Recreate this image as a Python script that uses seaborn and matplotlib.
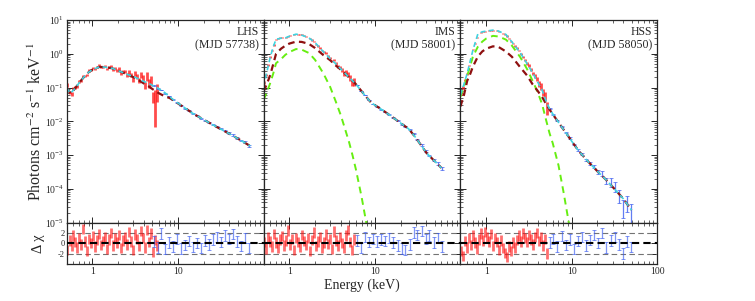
import matplotlib
matplotlib.use("Agg")
import matplotlib.pyplot as plt
from matplotlib.ticker import LogLocator, NullFormatter, FixedLocator
import seaborn as sns

# ---------------- data ----------------
panel_names = ["LHS", "IMS", "HSS"]
panel_dates = ["(MJD 57738)", "(MJD 58001)", "(MJD 58050)"]

# energy grid of the model curves (keV)
E_model = [0.5, 0.55, 0.6, 0.65, 0.7, 0.8, 0.9, 1.0, 1.2, 1.4, 1.7, 2.0, 2.5, 3.0, 3.5, 4.0,
           4.5, 5.0, 5.5, 6.0, 7.0, 8.0, 9.0, 10, 12, 15, 20, 25, 30, 40, 50, 60, 70]

lhs_total = [0.1, 0.0676, 0.0832, 0.107, 0.138, 0.209, 0.282, 0.339, 0.407, 0.403, 0.372, 0.316,
             0.251, 0.214, 0.178, 0.151, 0.135, 0.117, 0.105, 0.0912, 0.0708, 0.0537, 0.0417,
             0.0347, 0.0251, 0.017, 0.0112, 0.00813, 0.00631, 0.00427, 0.00309, 0.00234, 0.00186]
lhs_comp = [0.1, 0.0676, 0.0832, 0.107, 0.138, 0.209, 0.282, 0.339, 0.407, 0.403, 0.372, 0.316,
            0.251, 0.204, 0.162, 0.132, 0.110, 0.0912, 0.0776, 0.0676, 0.055, 0.049, 0.0407,
            0.0339, 0.0251, 0.017, 0.0112, 0.00813, 0.00631, 0.00427, 0.00309, 0.00234, 0.00186]
lhs_disk = []

ims_total = [0.107, 0.309, 0.813, 1.62, 2.69, 2.88, 2.95, 3.31, 3.8, 3.55, 2.95, 2.14, 1.15,
             0.724, 0.501, 0.355, 0.263, 0.2, 0.158, 0.126, 0.0776, 0.0513, 0.0363, 0.0302,
             0.0224, 0.0151, 0.0089, 0.00589, 0.00331, 0.00117, 0.00066, 0.000417]
ims_comp = [0.0759, 0.132, 0.24, 0.501, 1.0, 1.41, 1.74, 2.0, 2.29, 2.24, 1.95, 1.48, 0.912,
            0.646, 0.447, 0.339, 0.257, 0.2, 0.158, 0.126, 0.0776, 0.0513, 0.0363, 0.0302,
            0.0224, 0.0151, 0.0089, 0.00589, 0.00331, 0.00117, 0.00066, 0.000417]
ims_disk = [0.0427, 0.0759, 0.138, 0.263, 0.525, 0.692, 0.933, 1.12, 1.38, 1.32, 1.05, 0.661,
            0.263, 0.105, 0.038, 0.0151, 0.00575, 0.0024, 0.000955, 0.00038, 5.75e-5, 8.9e-6]

hss_total = [0.0603, 0.126, 0.263, 0.603, 1.29, 3.89, 4.47, 4.68, 5.01, 4.68, 3.72, 2.24, 1.07,
             0.513, 0.269, 0.145, 0.0851, 0.0407, 0.0234, 0.0166, 0.00933, 0.00575, 0.0038,
             0.00257, 0.00135, 0.000708, 0.000331, 0.00019, 0.000115, 5.13e-5, 2.34e-5]
hss_comp = [0.0275, 0.0603, 0.158, 0.251, 0.417, 0.832, 1.17, 1.41, 1.66, 1.58, 1.17, 0.813,
            0.398, 0.229, 0.123, 0.0794, 0.0525, 0.0331, 0.0224, 0.0162, 0.00933, 0.00575,
            0.0038, 0.00257, 0.00135, 0.000708, 0.000331, 0.00019, 0.000115, 5.13e-5, 2.34e-5]
hss_disk = [0.0537, 0.105, 0.219, 0.437, 0.832, 1.62, 2.29, 2.82, 3.39, 3.24, 2.63, 1.74, 0.794,
            0.355, 0.155, 0.0724, 0.0324, 0.0112, 0.00447, 0.00224, 0.0005, 8.3e-5, 1.48e-5, 3.2e-6]

# soft-band (red) channel energies, keV
E_red = [0.51, 0.54, 0.57, 0.60, 0.63, 0.66, 0.70, 0.74, 0.78, 0.82, 0.87, 0.92, 0.97, 1.02,
         1.08, 1.14, 1.20, 1.27, 1.34, 1.41, 1.49, 1.57, 1.66, 1.75, 1.85, 1.95, 2.06, 2.17,
         2.29, 2.42, 2.55, 2.69, 2.84, 3.00, 3.16, 3.34, 3.52, 3.72, 3.92, 4.14, 4.37, 4.61,
         4.86, 5.13, 5.41, 5.71]

lhs_red_flux = [0.12, 0.072, 0.066, 0.095, 0.101, 0.106, 0.150, 0.159, 0.225, 0.226, 0.236, 0.32,
                0.327, 0.38, 0.355, 0.41, 0.46, 0.40, 0.42, 0.43, 0.355, 0.405, 0.43, 0.345,
                0.37, 0.33, 0.36, 0.27, 0.30, 0.30, 0.24, 0.29, 0.24, 0.178, 0.26, 0.22, 0.165,
                0.24, 0.19, 0.118, 0.22, 0.14, 0.17, 0.055, 0.045, 0.085]
lhs_red_err = [0.15, 0.12, 0.12, 0.10, 0.10, 0.09, 0.08, 0.08, 0.07, 0.07, 0.07, 0.07, 0.07, 0.07,
               0.07, 0.07, 0.07, 0.07, 0.07, 0.07, 0.08, 0.08, 0.08, 0.09, 0.09, 0.10, 0.10, 0.11,
               0.12, 0.12, 0.13, 0.14, 0.15, 0.16, 0.17, 0.18, 0.20, 0.21, 0.23, 0.25, 0.27, 0.30,
               0.33, 0.36, 0.85, 0.55]
lhs_red_chi = [-1.2, 0.6, -0.5, 1.5, 0.3, -0.8, 1.1, -0.2, 2.8, 0.4, -1.5, 0.9, 0.1, 1.4, -0.6,
               0.7, 1.8, -0.3, 0.5, 1.2, -1.1, 0.8, 2.0, -0.4, 1.0, 0.2, 1.6, -0.9, 0.6, 1.3,
               -0.2, 2.2, 0.4, -1.3, 1.7, 0.9, -0.5, 2.4, 1.1, -0.8, 2.6, 0.3, 1.9, -1.6, 0.7, -0.4]

ims_red_flux = [0.14, 0.24, 0.47, 0.80, 1.26, 1.83, 2.72, 2.78, 2.98, 3.04, 2.92, 3.02, 3.25, 3.38,
                3.59, 3.66, 3.84, 3.82, 3.67, 3.63, 3.42, 3.21, 3.13, 2.86, 2.55, 2.28, 1.87, 1.69,
                1.50, 1.23, 1.13, 1.04, 0.85, 0.75, 0.62, 0.65, 0.51, 0.43, 0.40, 0.33, 0.26, 0.28,
                0.25, 0.19, 0.14, 0.15]
ims_red_err = [0.10, 0.08, 0.06, 0.05, 0.04, 0.04, 0.03, 0.03, 0.03, 0.03, 0.03, 0.03, 0.03, 0.03,
               0.03, 0.03, 0.03, 0.03, 0.03, 0.03, 0.03, 0.03, 0.03, 0.04, 0.04, 0.04, 0.04, 0.05,
               0.05, 0.05, 0.06, 0.06, 0.07, 0.08, 0.08, 0.09, 0.10, 0.11, 0.12, 0.13, 0.15, 0.16,
               0.18, 0.20, 0.23, 0.26]
ims_red_chi = [0.3, -1.0, 1.2, 0.4, -0.6, 1.8, 0.2, -0.9, 0.8, 1.4, -0.4, 0.6, 2.5, -0.2, 0.9,
               -1.2, 1.1, 0.3, -0.7, 1.6, 0.5, -0.3, 1.0, -1.4, 0.7, 2.1, -0.5, 0.4, 1.3, -0.8,
               0.2, 1.7, -0.1, 0.9, -1.1, 2.3, 0.6, -0.4, 1.2, 0.1, -0.9, 1.5, 2.6, 0.3, -1.3, 0.8]

hss_red_flux = [0.068, 0.10, 0.17, 0.25, 0.45, 0.68, 1.31, 2.07, 3.12, 4.12, 4.36, 4.49, 4.66, 4.74,
                4.81, 5.0, 4.95, 5.06, 4.91, 4.62, 4.40, 3.98, 3.68, 3.35, 2.84, 2.33, 2.05, 1.69,
                1.47, 1.25, 1.00, 0.83, 0.66, 0.52, 0.44, 0.34, 0.26, 0.22, 0.18, 0.13, 0.11, 0.074,
                0.056, 0.026]
hss_red_err = [0.10, 0.08, 0.06, 0.05, 0.04, 0.04, 0.03, 0.03, 0.03, 0.03, 0.03, 0.03, 0.03, 0.03,
               0.03, 0.03, 0.03, 0.03, 0.03, 0.03, 0.03, 0.03, 0.04, 0.04, 0.04, 0.04, 0.05, 0.05,
               0.05, 0.06, 0.06, 0.07, 0.08, 0.09, 0.10, 0.11, 0.12, 0.14, 0.16, 0.18, 0.21, 0.25,
               0.30, 0.40]
hss_red_chi = [-1.5, -2.4, 0.5, -0.8, 1.0, -0.3, 1.5, 0.2, -1.0, 0.8, 1.9, 0.6, 2.2, 1.2, 0.4,
               1.8, -0.5, 1.1, 0.3, -1.2, 0.6, -0.9, -1.8, -2.6, -0.6, -1.4, 0.2, -0.8, 0.7, 1.5,
               0.4, 1.9, 1.0, 0.3, 1.6, 0.8, -0.2, 1.2, 2.0, 0.5, 1.3, -0.4, 0.9, -1.9]

# hard-band (blue) data
lhs_blue_E = [5.2, 5.8, 6.4, 7.1, 7.9, 8.8, 9.8, 10.9, 12.1, 13.5, 15.0, 16.7, 18.6, 20.7, 23.0,
              25.6, 28.5, 31.7, 35.3, 39.3, 43.7, 48.6, 54.1, 60.2, 67.0]
lhs_blue_flux = [0.113, 0.093, 0.085, 0.067, 0.0555, 0.0435, 0.0358, 0.029, 0.0244, 0.0206,
                 0.0168, 0.0146, 0.0121, 0.0108, 0.009, 0.0080, 0.0071, 0.0061, 0.0053, 0.0045,
                 0.0040, 0.0032, 0.0027, 0.0024, 0.0019]
lhs_blue_err = [0.02, 0.02, 0.02, 0.02, 0.02, 0.02, 0.02, 0.02, 0.02, 0.025, 0.025, 0.025, 0.03,
                0.03, 0.03, 0.035, 0.035, 0.04, 0.04, 0.045, 0.05, 0.055, 0.06, 0.07, 0.08]
lhs_blue_chi = [0.4, -0.8, 1.9, -1.1, 0.2, -0.6, 0.9, -1.0, -0.3, 0.5, -0.7, 0.1, -0.9, 0.6, -0.2,
                0.8, 1.2, 0.3, 1.5, 0.9, 1.8, 0.4, -0.5, 1.1, -0.9]

ims_blue_E = [6.2, 6.9, 7.7, 8.6, 9.6, 10.7, 11.9, 13.3, 14.8, 16.5, 18.4, 20.5, 22.8, 25.4, 28.3,
              31.5, 35.1, 39.1, 43.5, 48.5, 54.0, 60.1]
ims_blue_flux = [0.118, 0.079, 0.060, 0.0425, 0.033, 0.0272, 0.0227, 0.0188, 0.0158, 0.0127,
                 0.0104, 0.0083, 0.0069, 0.0058, 0.0044, 0.0029, 0.0020, 0.00132, 0.00097,
                 0.00071, 0.00056, 0.00040]
ims_blue_err = [0.02, 0.02, 0.02, 0.02, 0.02, 0.02, 0.02, 0.025, 0.025, 0.025, 0.03, 0.03, 0.03,
                0.035, 0.035, 0.04, 0.045, 0.05, 0.06, 0.07, 0.08, 0.09]
ims_blue_chi = [0.6, -0.9, 1.2, 0.3, 0.9, 0.4, 0.8, 0.5, 1.0, 0.2, -0.4, -1.0, -1.3, -0.2, 2.1,
                1.6, 2.4, 0.9, 1.5, 0.2, 1.1, -0.6]

hss_blue_E = [5.5, 6.1, 6.8, 7.6, 8.5, 9.5, 10.6, 11.8, 13.2, 14.7, 16.4, 18.3, 20.4, 22.8, 25.4,
              28.4, 31.7, 35.3, 39.4, 44.0, 49.0]
hss_blue_flux = [0.0236, 0.0158, 0.0103, 0.0071, 0.0046, 0.0032, 0.00205, 0.00145, 0.00105,
                 0.00072, 0.00057, 0.00046, 0.00032, 0.00029, 0.000175, 0.00016, 0.00012, 6.5e-5,
                 3.0e-5, 4.2e-5, 2.2e-5]
hss_blue_err = [0.03, 0.03, 0.03, 0.04, 0.04, 0.05, 0.05, 0.06, 0.07, 0.08, 0.1, 0.12, 0.14, 0.17,
                0.22, 0.27, 0.33, 0.40, 0.55, 0.5, 0.6]
hss_blue_chi = [0.2, 0.9, -0.6, 1.4, -0.3, 0.8, -1.1, 0.5, 1.2, -0.4, 0.7, 1.6, 0.1, 2.0, -0.8,
                0.6, 1.3, -0.2, -1.9, 0.4, -0.7]

panels = [
    dict(total=lhs_total, comp=lhs_comp, disk=lhs_disk, red_flux=lhs_red_flux,
         red_err=lhs_red_err, red_chi=lhs_red_chi, blue_E=lhs_blue_E, blue_flux=lhs_blue_flux,
         blue_err=lhs_blue_err, blue_chi=lhs_blue_chi),
    dict(total=ims_total, comp=ims_comp, disk=ims_disk, red_flux=ims_red_flux,
         red_err=ims_red_err, red_chi=ims_red_chi, blue_E=ims_blue_E, blue_flux=ims_blue_flux,
         blue_err=ims_blue_err, blue_chi=ims_blue_chi),
    dict(total=hss_total, comp=hss_comp, disk=hss_disk, red_flux=hss_red_flux,
         red_err=hss_red_err, red_chi=hss_red_chi, blue_E=hss_blue_E, blue_flux=hss_blue_flux,
         blue_err=hss_blue_err, blue_chi=hss_blue_chi),
]

RED = "#ff1010"
BLUE = "#3b5cf0"
TOTAL = "#3fd3e0"
COMP = "#8e1010"
DISK = "#66ee11"

# ---------------- style ----------------
sns.set_theme(style="ticks")
plt.rcParams["font.family"] = ["Liberation Serif", "DejaVu Serif"]
plt.rcParams["mathtext.fontset"] = "stix"
plt.rcParams["axes.unicode_minus"] = False
plt.rcParams["xtick.direction"] = "in"
plt.rcParams["ytick.direction"] = "in"
plt.rcParams["xtick.top"] = True
plt.rcParams["ytick.right"] = True
plt.rcParams["axes.linewidth"] = 0.9


def style_axis(ax):
    ax.set_xscale("log")
    ax.set_xlim(0.5, 100)
    ax.tick_params(which="major", length=4, width=0.7, labelsize=7, pad=2)
    ax.tick_params(which="minor", length=2, width=0.5)
    ax.xaxis.set_minor_locator(LogLocator(base=10, subs=(2, 3, 4, 5, 6, 7, 8, 9), numticks=50))
    ax.xaxis.set_minor_formatter(NullFormatter())


def draw_model(ax, values, color, lw, dash):
    sns.lineplot(x=E_model[:len(values)], y=values, ax=ax, color=color, lw=lw,
                 linestyle=(0, dash), estimator=None)


fig = plt.figure(figsize=(7.55, 3.01), dpi=100)
gs = fig.add_gridspec(2, 3, height_ratios=[202.7, 41.6], left=0.0883, right=0.8706,
                      top=0.9336, bottom=0.122, hspace=0, wspace=0)

top_axes, bot_axes = [], []
for i, p in enumerate(panels):
    ax = fig.add_subplot(gs[0, i])
    rax = fig.add_subplot(gs[1, i], sharex=ax)
    top_axes.append(ax)
    bot_axes.append(rax)

    style_axis(ax)
    style_axis(rax)
    ax.set_yscale("log")
    ax.set_ylim(1e-5, 10)
    ax.yaxis.set_minor_locator(LogLocator(base=10, subs=(2, 3, 4, 5, 6, 7, 8, 9), numticks=50))
    ax.yaxis.set_minor_formatter(NullFormatter())

    n_red = len(p["red_flux"])
    e_red = E_red[:n_red]
    red_yerr = [f * r for f, r in zip(p["red_flux"], p["red_err"])]
    ax.errorbar(e_red, p["red_flux"], yerr=red_yerr, fmt="none", ecolor=RED,
                elinewidth=2.0, alpha=0.75, zorder=2)
    blue_yerr = [f * r for f, r in zip(p["blue_flux"], p["blue_err"])]
    ax.errorbar(p["blue_E"], p["blue_flux"], yerr=blue_yerr, fmt="none", ecolor=BLUE,
                elinewidth=0.9, capsize=1.2, capthick=0.6, alpha=0.8, zorder=2)

    if p["disk"]:
        draw_model(ax, p["disk"], DISK, 1.4, (3.5, 2.5))
    draw_model(ax, p["comp"], COMP, 1.6, (3, 2))
    draw_model(ax, p["total"], TOTAL, 1.2, (3, 2))

    ax.text(0.975, 0.97, panel_names[i] + "\n" + panel_dates[i], transform=ax.transAxes,
            ha="right", va="top", fontsize=8.5, linespacing=1.15)
    ax.tick_params(labelbottom=False)

    # residuals
    rax.errorbar(e_red, p["red_chi"], yerr=1, fmt="none", ecolor=RED, elinewidth=2.0,
                 alpha=0.6, zorder=2)
    rax.errorbar(p["blue_E"], p["blue_chi"], yerr=1, fmt="none", ecolor=BLUE, elinewidth=0.9,
                 capsize=1.5, capthick=0.7, alpha=0.65, zorder=2)
    for lvl in (2, -2):
        rax.axhline(lvl, color="0.45", lw=0.8, ls=(0, (5, 3)), zorder=1)
    rax.axhline(0, color="black", lw=1.5, ls=(0, (3.5, 2)), zorder=3)
    rax.set_ylim(-4, 4)
    rax.yaxis.set_major_locator(FixedLocator([-2, 0, 2]))
    rax.tick_params(axis="y", labelsize=6, pad=1.5)
    rax.set_xticks([1, 10, 100])
    if i < 2:
        rax.set_xticklabels(["1", "10", ""])
    else:
        rax.set_xticklabels(["1", "10", "100"])
    rax.set_xlim(0.5, 100)
    ax.set_xlabel("")
    ax.set_ylabel("")
    rax.set_xlabel("")

    if i > 0:
        ax.tick_params(labelleft=False)
        rax.tick_params(labelleft=False)

top_axes[0].set_ylabel(r"Photons cm$^{-2}$ s$^{-1}$ keV$^{-1}$", fontsize=11.5)
top_axes[0].yaxis.set_label_coords(-0.11, 0.5)
bot_axes[0].set_ylabel("Δ χ", fontsize=10.5)
bot_axes[0].yaxis.set_label_coords(-0.11, 0.5)

fig.text(0.4795, 0.052, "Energy (keV)", ha="center", va="center", fontsize=10)

fig.savefig("out.png", dpi=100)
